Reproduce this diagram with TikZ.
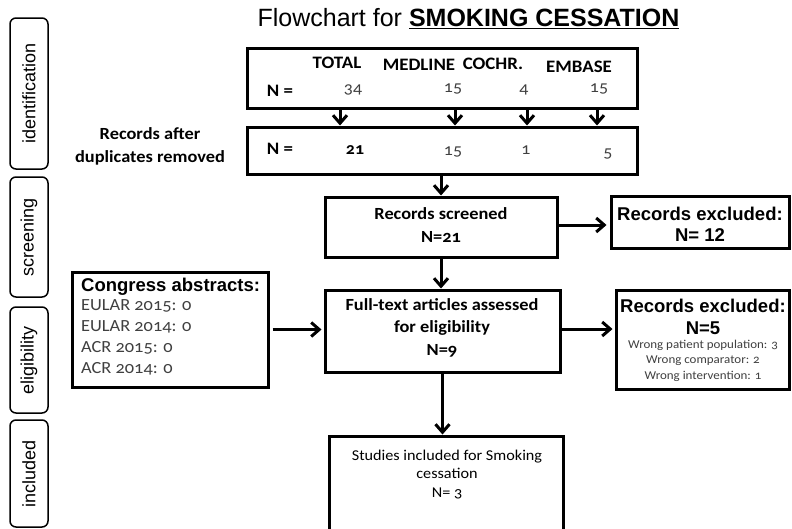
\documentclass[tikz,border=0pt]{standalone}
\usepackage{fontspec}
\setmainfont{Carlito}[Numbers=OldStyle, FakeStretch=1.08]
\newfontfamily\arial{Liberation Sans}
\usetikzlibrary{arrows.meta,calc}
\definecolor{txtgray}{HTML}{404040}
\begin{document}
\begin{tikzpicture}[x=1pt,y=-1pt,
  box/.style={draw, line width=3pt, rectangle, inner sep=0pt},
  side/.style={draw, line width=1.5pt, rounded corners=6pt, inner sep=0pt, rotate=90,
    minimum height=38pt, font=\arial\fontsize{18}{20}\selectfont},
  arr/.style={line width=3pt, -{Straight Barb[length=8pt, width=14pt]}},
  txt/.style={inner sep=0pt, align=center},
  hdr/.style={txt, anchor=base, font=\bfseries\fontsize{17.5}{20}\selectfont},
  num/.style={txt, anchor=base, font=\fontsize{16.5}{18}\selectfont, text=txtgray},
  lbl/.style={txt, font=\bfseries\fontsize{17}{22.5}\selectfont},
  big/.style={txt, font=\arial\bfseries\fontsize{18.5}{21.5}\selectfont},
  small/.style={txt, font=\fontsize{12}{15.5}\selectfont, text=txtgray},
  item/.style={inner sep=0pt, align=left, font=\fontsize{17}{21}\selectfont, text=txtgray},
]
\clip (0,0) rectangle (792,528);
\useasboundingbox (0,0) rectangle (792,528);
\fill[white] (0,0) rectangle (792,528);

% title
\node[txt] (title) at (468.5,19) {\arial\fontsize{25}{28}\selectfont Flowchart for \textbf{\underline{SMOKING CESSATION}}};

% side labels
\node[side, minimum width=151pt] (sid) at (29,93.5) {identification};
\node[side, minimum width=120pt] (sscr) at (29,237) {screening};
\node[side, minimum width=106pt] (selig) at (29,360) {eligibility};
\node[side, minimum width=107pt] (sincl) at (29,473.5) {included};

% boxes
\node[box, minimum width=390pt, minimum height=60pt] (src) at (442,78) {};
\node[box, minimum width=390pt, minimum height=47pt] (dup) at (442,150.5) {};
\node[box, minimum width=232pt, minimum height=60pt] (scr) at (441,227) {};
\node[box, minimum width=178pt, minimum height=52pt] (exca) at (700,222) {};
\node[box, minimum width=235pt, minimum height=82pt] (full) at (442.5,331) {};
\node[box, minimum width=196pt, minimum height=115pt] (cong) at (170,329.5) {};
\node[box, minimum width=173.5pt, minimum height=99pt] (excb) at (702.75,339.5) {};
\node[box, minimum width=234pt, minimum height=110pt] (incl) at (446,491) {};

% texts in top boxes
\node[hdr] (ttot) at (337,68) {TOTAL};
\node[hdr] (tmed) at (419,70.5) {MEDLINE};
\node[hdr] (tcoc) at (493,69.5) {COCHR.};
\node[hdr] (temb) at (579,72) {EMBASE};
\node[hdr] (nA) at (280,96) {N =};
\node[num] (n34) at (353,93) {34};
\node[num] (n15a) at (453,92) {15};
\node[num] (n4) at (524,93) {4};
\node[num] (n15b) at (599,92) {15};
\node[hdr] (nB) at (280,154.5) {N =};
\node[num, font=\bfseries\fontsize{16.5}{18}\selectfont, text=black] (n21) at (355,154) {21};
\node[num] (n15c) at (453,155) {15};
\node[num] (n1) at (526,154) {1};
\node[num] (n5) at (608,157) {5};
\node[lbl] (dupl) at (150,146.5) {Records after\\duplicates removed};

\node[lbl] (scrtxt) at (441,225) {Records screened\\N=21};
\node[big] (excatxt) at (700,224.5) {Records excluded:\\N= 12};
\node[lbl] (fulltxt) at (442,327.5) {Full-text articles assessed\\for eligibility\\N=9};
\node[big, anchor=west] (congh) at (81,287) {Congress abstracts:};
\node[item, anchor=north west] (congl) at (81,299) {EULAR 2015: 0\\EULAR 2014: 0\\ACR 2015: 0\\ACR 2014: 0};
\node[big] (excbh) at (703,317) {Records excluded:\\N=5};
\node[small] (excbs) at (703,360.5) {Wrong patient population: 3\\Wrong comparator: 2\\Wrong intervention: 1};
\node[txt, font=\fontsize{15}{18.5}\selectfont] (incltxt) at (447,474.5) {Studies included for Smoking\\cessation\\N= 3};

% arrows
\coordinate (c1) at (340,0);
\coordinate (c2) at (455,0);
\coordinate (c3) at (527,0);
\coordinate (c4) at (597,0);
\foreach \c in {c1,c2,c3,c4}
  \draw[arr] (src.south -| \c) -- (dup.north -| \c);
\draw[arr] (dup.south -| scr.north) -- (scr.north);
\coordinate (se) at ($(scr.east)+(0,-2)$);
\draw[arr, shorten >=3pt] (se) -- (se -| exca.west);
\draw[arr] (scr.south) -- (scr.south |- full.north);
\draw[arr, shorten <=3pt, shorten >=2pt] (cong.east) -- (cong.east -| full.west);
\coordinate (fe) at ($(full.east)+(0,-2)$);
\draw[arr, shorten >=2pt] (fe) -- (fe -| excb.west);
\draw[arr] (full.south) -- (full.south |- incl.north);
\end{tikzpicture}
\end{document}
